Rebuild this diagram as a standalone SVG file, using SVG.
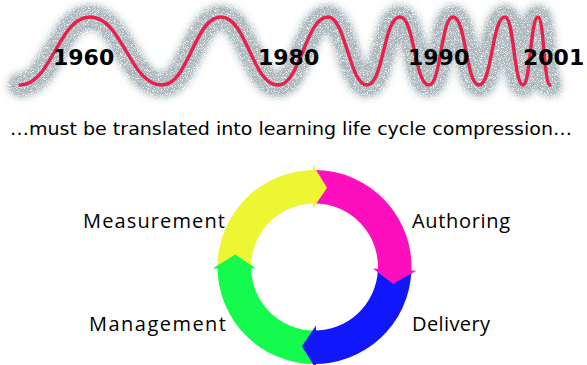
<svg xmlns="http://www.w3.org/2000/svg" width="587" height="365" viewBox="0 0 587 365">
<defs>
<style>
.year{font-family:"DejaVu Sans","Liberation Sans",sans-serif;font-weight:bold;font-size:22px;fill:#000}
.sub{font-family:"DejaVu Sans","Liberation Sans",sans-serif;font-size:17px;fill:#000}
.lbl{font-family:"Open Sans","Noto Sans",sans-serif;font-size:20px;fill:#000}
</style>
<filter id="halo" x="-5%" y="-40%" width="110%" height="180%">
<feGaussianBlur in="SourceAlpha" stdDeviation="4" result="blur0"/>
<feComponentTransfer in="blur0" result="blur"><feFuncA type="linear" slope="1.5" intercept="0"/></feComponentTransfer>
<feTurbulence type="fractalNoise" baseFrequency="1.3" numOctaves="2" seed="7" result="noise"/>
<feColorMatrix in="noise" type="matrix" values="0 0 0 0 0.40  0 0 0 0 0.47  0 0 0 0 0.50  3.5 0 0 0 -0.8" result="speck"/>
<feComposite in="speck" in2="blur" operator="in"/>
</filter>
</defs>
<rect width="587" height="365" fill="#fff"/>
<g id="timeline">
<path id="wave-halo" d="M20,85 C51.5,85 58.5,17 90,17 C122.4,17 129.6,85 162,85 C188.6,85 194.4,17 221,17 C246.7,17 252.4,85 278,85 C300.5,85 305.5,17 328,17 C345.6,17 349.5,85 367,85 C383.5,85 383.5,17 400,17 C414.5,17 414.5,85 429,85 C441,85 441,17 453,17 C466,17 466,85 479,85 C492,85 492,17 505,17 C514,17 514,85 523,85 C530.5,85 530.5,17 538,17 C544,17 544,85 550,85" fill="none" stroke="#000" stroke-width="22" stroke-linecap="round" filter="url(#halo)"/>
<path id="wave" d="M20,85 C51.5,85 58.5,17 90,17 C122.4,17 129.6,85 162,85 C188.6,85 194.4,17 221,17 C246.7,17 252.4,85 278,85 C300.5,85 305.5,17 328,17 C345.6,17 349.5,85 367,85 C383.5,85 383.5,17 400,17 C414.5,17 414.5,85 429,85 C441,85 441,17 453,17 C466,17 466,85 479,85 C492,85 492,17 505,17 C514,17 514,85 523,85 C530.5,85 530.5,17 538,17 C544,17 544,85 550,85" fill="none" stroke="#e8204a" stroke-width="3.4" stroke-linecap="round"/>
<text class="year" x="53" y="65">1960</text>
<text class="year" x="258" y="65">1980</text>
<text class="year" x="408" y="65">1990</text>
<text class="year" x="523" y="65">2001</text>
</g>
<text id="subtitle" class="sub" x="10" y="135" textLength="562" lengthAdjust="spacingAndGlyphs">…must be translated into learning life cycle compression…</text>
<g id="connectors">
<path id="yellow-body" d="M217.53,269.54 A97,97 0 0 1 317.04,170.03 L316.16,203.52 A63.5,63.5 0 0 0 251.02,268.66 Z" fill="#eef532"/>
<path id="magenta-body" d="M314.5,170 A97,97 0 0 1 411.2,274.61 L377.8,271.98 A63.5,63.5 0 0 0 314.5,203.5 Z" fill="#fd0fbd"/>
<path id="blue-body" d="M411.37,272.08 A97,97 0 0 1 311.96,363.97 L312.84,330.48 A63.5,63.5 0 0 0 377.91,270.32 Z" fill="#1018fb"/>
<path id="green-body" d="M314.5,364 A97,97 0 0 1 217.5,267 L251,267 A63.5,63.5 0 0 0 314.5,330.5 Z" fill="#15fb4d"/>
<polygon id="yellow-head" points="313,165 327.05,187.74 313,208.5" fill="#eef532"/>
<polygon id="magenta-head" points="416.44,270.84 393,283.68 373,268.56" fill="#fd0fbd"/>
<polygon id="blue-head" points="316,369 301.95,346.26 316,325.5" fill="#1018fb"/>
<polygon id="green-head" points="212.5,268.5 235.24,254.45 256,268.5" fill="#15fb4d"/>
</g>
<g id="measurement"><text class="lbl" x="83" y="228" textLength="142" lengthAdjust="spacing">Measurement</text></g>
<g id="authoring"><text class="lbl" x="412" y="228" textLength="98" lengthAdjust="spacing">Authoring</text></g>
<g id="management"><text class="lbl" x="89" y="331" textLength="137" lengthAdjust="spacing">Management</text></g>
<g id="delivery"><text class="lbl" x="412" y="331" textLength="78" lengthAdjust="spacing">Delivery</text></g>
</svg>
